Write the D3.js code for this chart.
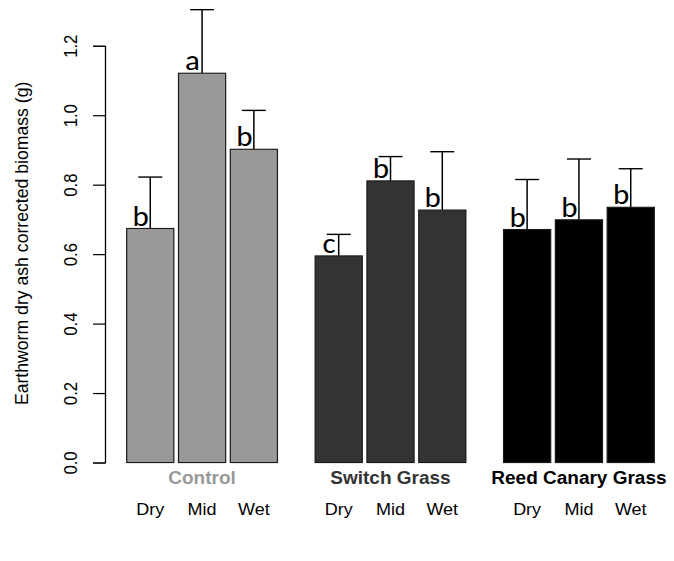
<!DOCTYPE html>
<html>
<head>
<meta charset="utf-8">
<script src="https://cdn.jsdelivr.net/npm/d3@7"></script>
<style>
  body { margin: 0; background: #fff; }
  svg { display: block; }
</style>
</head>
<body>
<div id="container"></div>
<script>
// data
var groups = ["Control", "Switch Grass", "Reed Canary Grass"];
var conditions = ["Dry", "Mid", "Wet"];
var controlMean = [0.674, 1.121, 0.902];
var switchMean  = [0.595, 0.811, 0.727];
var reedMean    = [0.671, 0.699, 0.735];
var controlSE = [0.148, 0.183, 0.112];
var switchSE  = [0.062, 0.070, 0.168];
var reedSE    = [0.144, 0.175, 0.111];
var controlLetters = ["b", "a", "b"];
var switchLetters  = ["c", "b", "b"];
var reedLetters    = ["b", "b", "b"];
var yTicks = [0, 0.2, 0.4, 0.6, 0.8, 1.0, 1.2];

var groupColor = ["#999999", "#333333", "#000000"];

var means = [controlMean, switchMean, reedMean];
var ses = [controlSE, switchSE, reedSE];
var letters = [controlLetters, switchLetters, reedLetters];

var data = [];
groups.forEach(function(g, gi) {
  conditions.forEach(function(c, ci) {
    data.push({group: g, gi: gi, cond: c, mean: means[gi][ci], se: ses[gi][ci], letter: letters[gi][ci]});
  });
});

var width = 674, height = 561;

var svg = d3.select("#container")
  .append("svg")
  .attr("width", width)
  .attr("height", height);

// the original plot is a bit squashed vertically
var root = svg.append("g").attr("transform", "scale(1," + (561 / 604) + ")");

var y = d3.scaleLinear().domain([0, 1.2]).range([498, 49.3]);

var x0 = d3.scaleBand()
  .domain(groups)
  .range([126.7, 654.3])
  .paddingInner(0.2)
  .paddingOuter(0);

var x1 = d3.scaleBand()
  .domain(conditions)
  .range([0, x0.bandwidth()])
  .paddingInner(0.09);

// y axis
var yAxis = d3.axisLeft(y).tickValues(yTicks).tickSize(12).tickFormat(d3.format(".1f"));
var ag = root.append("g")
  .attr("transform", "translate(105,0)")
  .call(yAxis);
ag.select(".domain").attr("stroke", "#000").attr("stroke-width", 1.3);
ag.selectAll(".tick line").attr("stroke", "#000").attr("stroke-width", 1.3);
ag.selectAll(".tick text")
  .attr("x", null).attr("dy", null)
  .attr("transform", "translate(-28,0) rotate(-90)")
  .attr("text-anchor", "middle")
  .attr("font-family", "Liberation Sans, Arial, sans-serif")
  .attr("font-size", 18)
  .attr("fill", "#000");

root.append("text")
  .attr("transform", "translate(28,262) rotate(-90)")
  .attr("text-anchor", "middle")
  .attr("font-family", "Liberation Sans, Arial, sans-serif")
  .attr("font-size", 19)
  .text("Earthworm dry ash corrected biomass (g)");

// bars
var bar = root.selectAll("g.bar")
  .data(data)
  .enter()
  .append("g")
  .attr("class", "bar")
  .attr("transform", function(d) { return "translate(" + (x0(d.group) + x1(d.cond)) + ",0)"; });

// error bars (upper only)
bar.append("line")
  .attr("x1", x1.bandwidth() / 2)
  .attr("x2", x1.bandwidth() / 2)
  .attr("y1", function(d) { return y(d.mean); })
  .attr("y2", function(d) { return y(d.mean + d.se); })
  .attr("stroke", "#000")
  .attr("stroke-width", 1.5);

bar.append("line")
  .attr("x1", x1.bandwidth() / 2 - 12)
  .attr("x2", x1.bandwidth() / 2 + 12)
  .attr("y1", function(d) { return y(d.mean + d.se); })
  .attr("y2", function(d) { return y(d.mean + d.se); })
  .attr("stroke", "#000")
  .attr("stroke-width", 1.5);

bar.append("rect")
  .attr("y", function(d) { return y(d.mean); })
  .attr("height", function(d) { return y(0) - y(d.mean); })
  .attr("width", x1.bandwidth())
  .attr("fill", function(d) { return groupColor[d.gi]; })
  .attr("stroke", "#1a1a1a")
  .attr("stroke-width", 1.2);

bar.append("text")
  .text(function(d) { return d.letter; })
  .attr("x", 14)
  .attr("y", function(d) { return y(d.mean) - 3; })
  .attr("text-anchor", "middle")
  .attr("font-family", "Carlito, Calibri, Lato, sans-serif")
  .attr("font-size", 31)
  .attr("fill", "#000");

// group labels
root.selectAll("text.grp")
  .data(groups)
  .enter()
  .append("text")
  .attr("class", "grp")
  .attr("x", function(d) { return x0(d) + x0.bandwidth() / 2; })
  .attr("y", 521)
  .attr("text-anchor", "middle")
  .attr("font-family", "Liberation Sans, Arial, sans-serif")
  .attr("font-weight", "bold")
  .attr("font-size", 19)
  .attr("fill", function(d, i) { return groupColor[i]; })
  .text(function(d) { return d; });

// condition labels
root.selectAll("text.cond")
  .data(data)
  .enter()
  .append("text")
  .attr("class", "cond")
  .attr("x", function(d) { return x0(d.group) + x1(d.cond) + x1.bandwidth() / 2; })
  .attr("y", 555)
  .attr("text-anchor", "middle")
  .attr("font-family", "Liberation Sans, Arial, sans-serif")
  .attr("font-size", 18)
  .attr("fill", "#000")
  .text(function(d) { return d.cond; });
</script>
</body>
</html>
